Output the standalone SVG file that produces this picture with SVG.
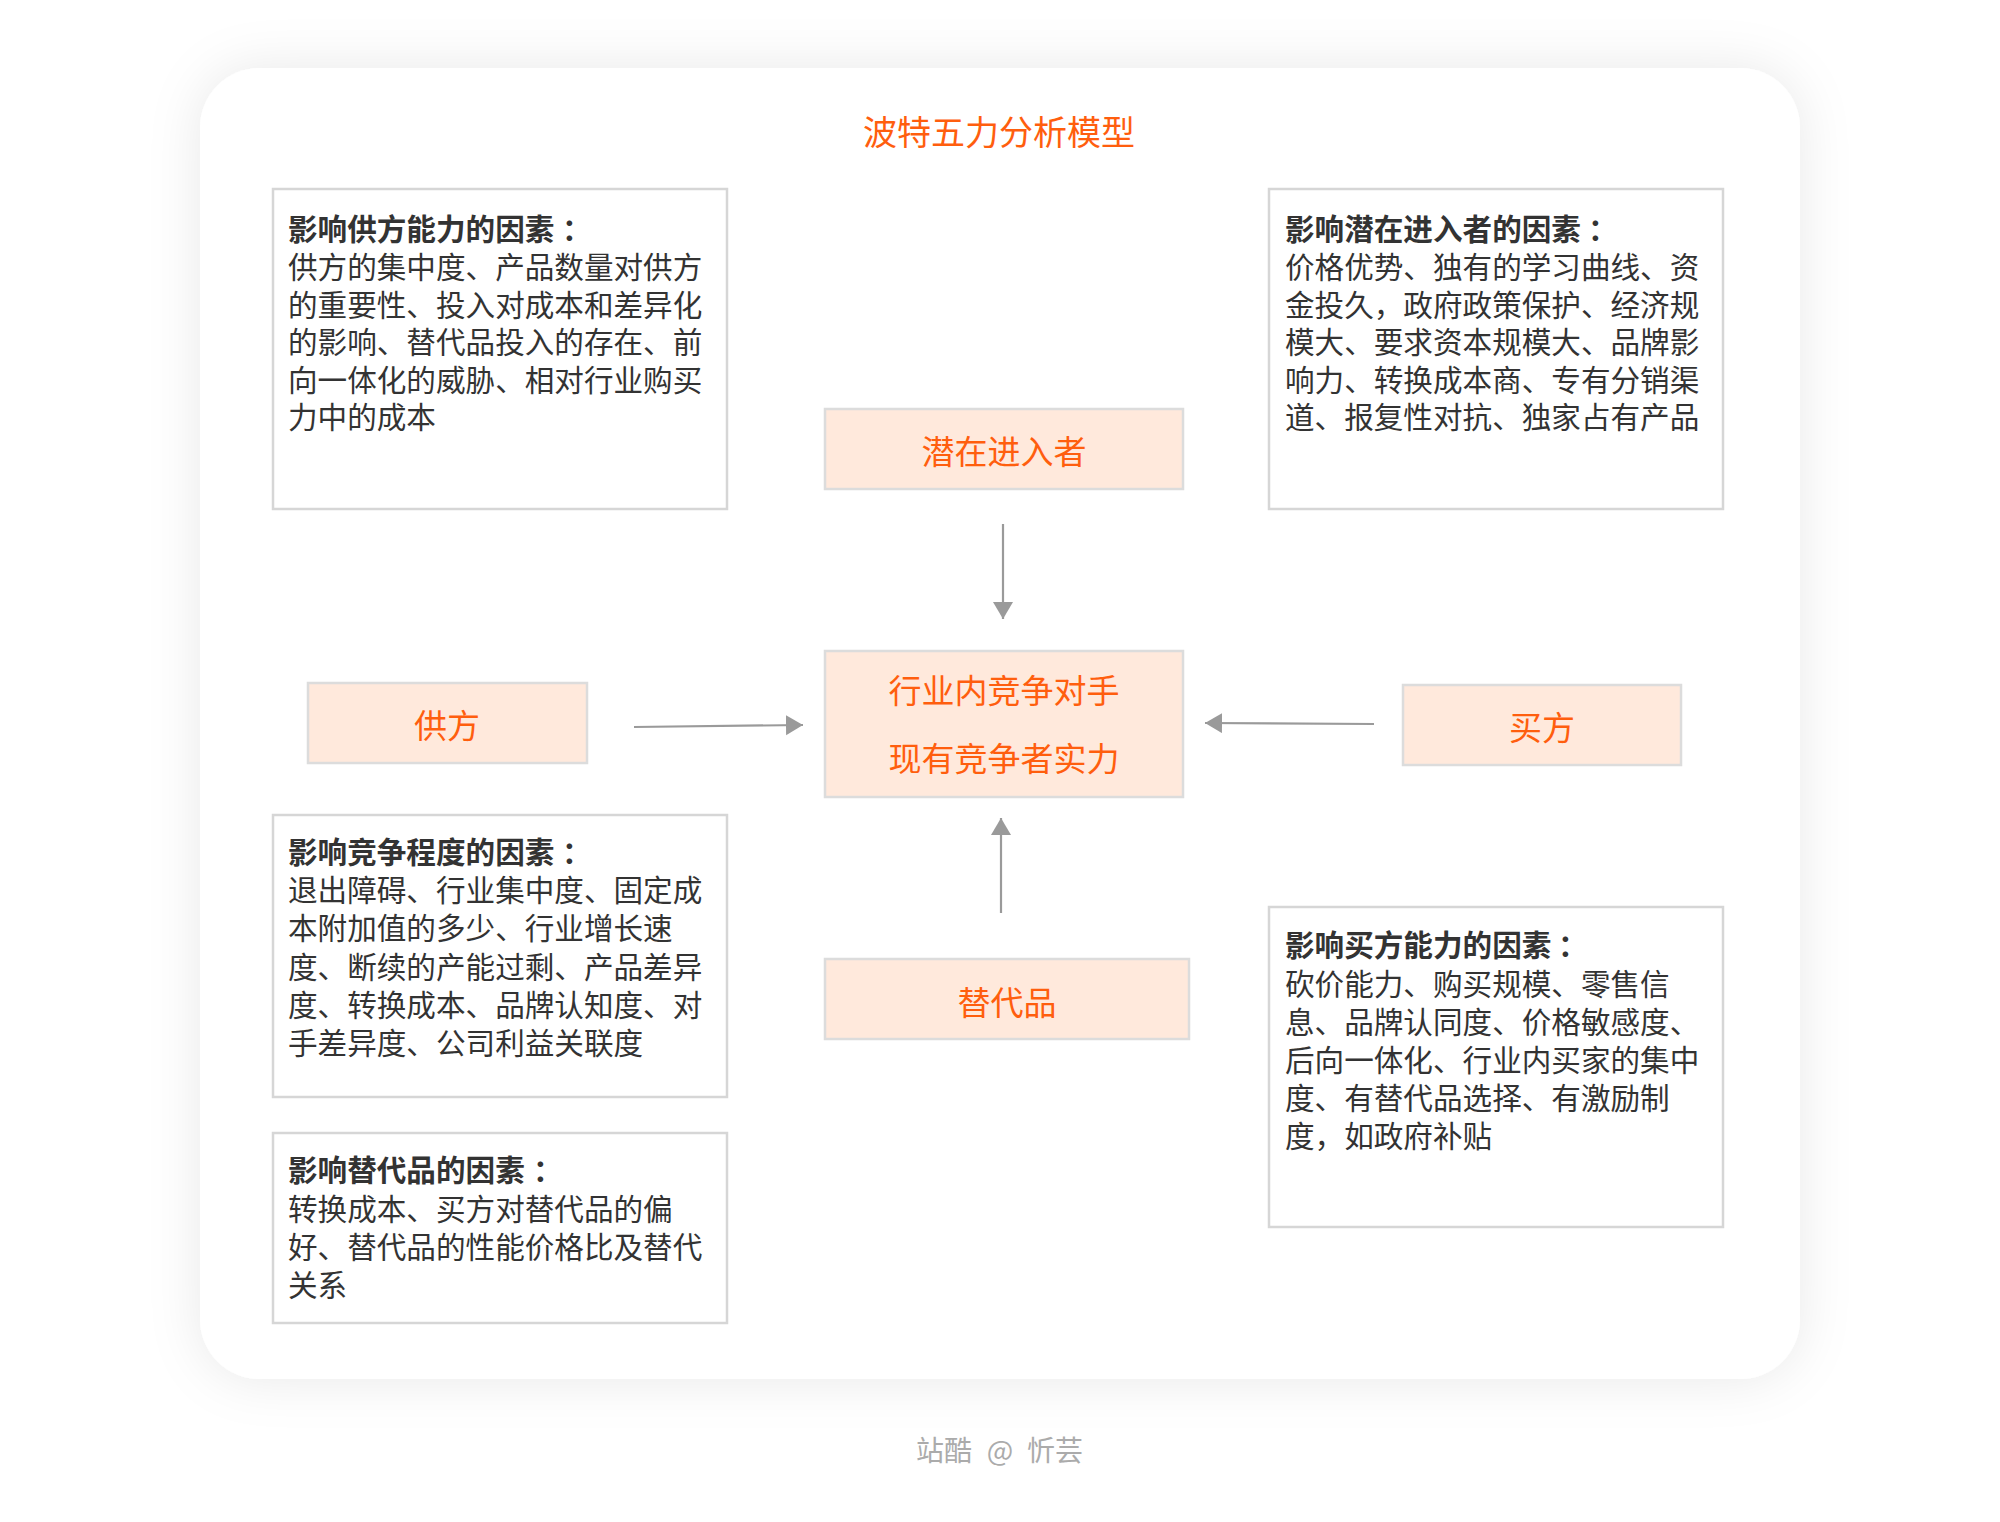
<svg xmlns="http://www.w3.org/2000/svg" width="2000" height="1522" viewBox="0 0 2000 1522">
<defs>
<filter id="shadow" x="-10%" y="-10%" width="120%" height="120%">
<feDropShadow dx="0" dy="0" stdDeviation="26" flood-color="#000" flood-opacity="0.09"/>
</filter>
<marker id="arrow" markerUnits="userSpaceOnUse" markerWidth="20" markerHeight="22" refX="17" refY="10" orient="auto">
<path d="M0,0 L17,10 L0,20 Z" fill="#9a9a9a"/>
</marker>
<style>
.tbox{fill:#fff;stroke:#d6d6d6;stroke-width:2.5}
.node{fill:#ffe9dc;stroke:#dcdcdc;stroke-width:2.5}
.ntext{font-family:"Noto Sans CJK SC","Noto Sans",sans-serif;font-size:33px;fill:#ff5e0e;text-anchor:middle}
.body{font-family:"Noto Sans CJK SC","Noto Sans",sans-serif;font-size:29.6px;fill:#333;text-spacing-trim:space-all}
.head{font-weight:bold}
.conn{stroke:#9a9a9a;stroke-width:2.2;fill:none}
.foot{font-family:"Noto Sans CJK SC","Noto Sans",sans-serif;font-size:28px;fill:#ababab}
</style>
</defs>
<rect width="2000" height="1522" fill="#fff"/>
<rect x="200" y="68" width="1600" height="1311" rx="60" ry="60" fill="#fff" filter="url(#shadow)"/>
<text x="999" y="145" font-family="'Noto Sans CJK SC','Noto Sans',sans-serif" font-size="34" fill="#ff5e0e" text-anchor="middle">波特五力分析模型</text>

<g id="box-supplier-factors">
<rect class="tbox" x="273" y="189" width="454" height="320"/>
<text class="body"><tspan class="head" x="288" y="239.5">影响供方能力的因素</tspan><tspan class="head" x="562" y="239.5">：</tspan><tspan x="288" y="277.5">供方的集中度、产品数量对供方</tspan><tspan x="288" y="315.5">的重要性、投入对成本和差异化</tspan><tspan x="288" y="353">的影响、替代品投入的存在、前</tspan><tspan x="288" y="390.5">向一体化的威胁、相对行业购买</tspan><tspan x="288" y="428">力中的成本</tspan></text>
</g>

<g id="box-entrant-factors">
<rect class="tbox" x="1269" y="189" width="454" height="320"/>
<text class="body"><tspan class="head" x="1285" y="239.5">影响潜在进入者的因素</tspan><tspan class="head" x="1588" y="239.5">：</tspan><tspan x="1285" y="277.5">价格优势、独有的学习曲线、资</tspan><tspan x="1285" y="315.5">金投久，政府政策保护、经济规</tspan><tspan x="1285" y="353">模大、要求资本规模大、品牌影</tspan><tspan x="1285" y="390.5">响力、转换成本商、专有分销渠</tspan><tspan x="1285" y="428">道、报复性对抗、独家占有产品</tspan></text>
</g>

<g id="box-competition-factors">
<rect class="tbox" x="273" y="815" width="454" height="282"/>
<text class="body"><tspan class="head" x="288" y="863">影响竞争程度的因素</tspan><tspan class="head" x="562" y="863">：</tspan><tspan x="288" y="901">退出障碍、行业集中度、固定成</tspan><tspan x="288" y="939.3">本附加值的多少、行业增长速</tspan><tspan x="288" y="977.6">度、断续的产能过剩、产品差异</tspan><tspan x="288" y="1015.9">度、转换成本、品牌认知度、对</tspan><tspan x="288" y="1054">手差异度、公司利益关联度</tspan></text>
</g>

<g id="box-buyer-factors">
<rect class="tbox" x="1269" y="907" width="454" height="320"/>
<text class="body"><tspan class="head" x="1285" y="956">影响买方能力的因素</tspan><tspan class="head" x="1558" y="956">：</tspan><tspan x="1285" y="994.5">砍价能力、购买规模、零售信</tspan><tspan x="1285" y="1032.5">息、品牌认同度、价格敏感度、</tspan><tspan x="1285" y="1070.8">后向一体化、行业内买家的集中</tspan><tspan x="1285" y="1108.8">度、有替代品选择、有激励制</tspan><tspan x="1285" y="1146.5">度，如政府补贴</tspan></text>
</g>

<g id="box-substitute-factors">
<rect class="tbox" x="273" y="1133" width="454" height="190"/>
<text class="body"><tspan class="head" x="288" y="1181">影响替代品的因素</tspan><tspan class="head" x="533" y="1181">：</tspan><tspan x="288" y="1219.5">转换成本、买方对替代品的偏</tspan><tspan x="288" y="1258">好、替代品的性能价格比及替代</tspan><tspan x="288" y="1296.3">关系</tspan></text>
</g>

<g id="node-entrant">
<rect class="node" x="825" y="409" width="358" height="80"/>
<text class="ntext" x="1004" y="464">潜在进入者</text>
</g>

<g id="node-rivalry">
<rect class="node" x="825" y="651" width="358" height="146"/>
<text class="ntext" x="1004" y="703">行业内竞争对手</text>
<text class="ntext" x="1004" y="771">现有竞争者实力</text>
</g>

<g id="node-supplier">
<rect class="node" x="308" y="683" width="279" height="80"/>
<text class="ntext" x="447" y="738">供方</text>
</g>

<g id="node-buyer">
<rect class="node" x="1403" y="685" width="278" height="80"/>
<text class="ntext" x="1542" y="740">买方</text>
</g>

<g id="node-substitute">
<rect class="node" x="825" y="959" width="364" height="80"/>
<text class="ntext" x="1007" y="1015">替代品</text>
</g>

<g id="connectors">
<line class="conn" x1="1003" y1="524" x2="1003" y2="619" marker-end="url(#arrow)"/>
<line class="conn" x1="634" y1="727" x2="803" y2="725" marker-end="url(#arrow)"/>
<line class="conn" x1="1374" y1="724" x2="1205" y2="723" marker-end="url(#arrow)"/>
<line class="conn" x1="1001" y1="913" x2="1001" y2="818" marker-end="url(#arrow)"/>
</g>

<text class="foot" x="916" y="1461">站酷</text>
<text class="foot" x="1000" y="1461" text-anchor="middle">@</text>
<text class="foot" x="1027" y="1461">忻芸</text>
</svg>
